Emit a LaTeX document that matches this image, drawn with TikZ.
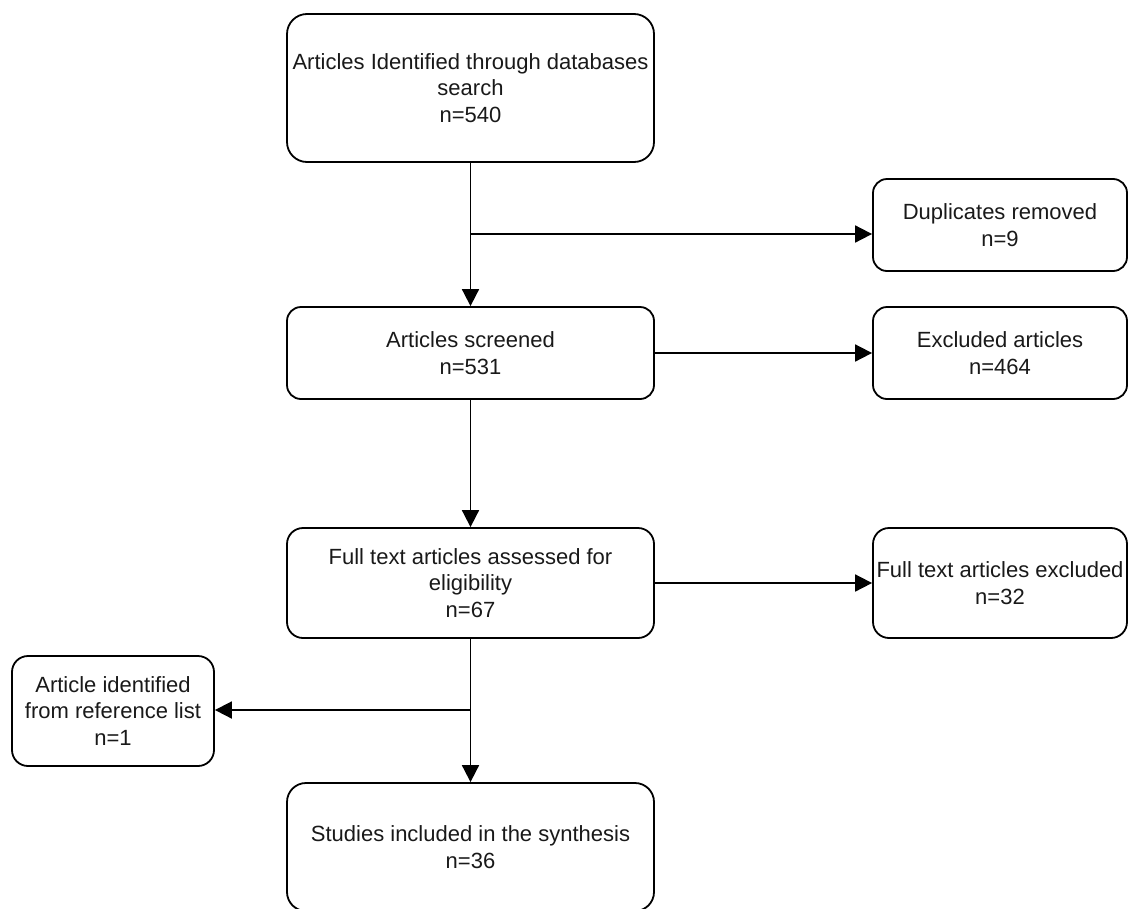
\documentclass[tikz,border=0pt]{standalone}
\usepackage{fontspec}
\setmainfont{Liberation Sans}
\usetikzlibrary{arrows.meta}
\tikzset{
  box/.style={draw=black, line width=1.8pt, align=center, inner sep=0pt,
    font=\fontsize{22}{26.4}\selectfont, text=black!90},
  conn/.style={draw=black, line width=1.8pt, -{Triangle[length=17pt,width=17pt]}},
  wide/.style={minimum width=367pt},
  side/.style={minimum width=254pt}
}
\begin{document}
\begin{tikzpicture}[x=1pt,y=-1pt]
\clip (0,0) rectangle (1129,908);
\node[box, wide, minimum height=148pt, rounded corners=20pt] (top) at (470.5,88)
  {Articles Identified through databases\\search\\n=540};
\node[box, side, minimum height=92pt, rounded corners=14pt] (dup) at (1000,225)
  {Duplicates removed\\n=9};
\node[box, wide, minimum height=92pt, rounded corners=14pt] (scr) at (470.5,353)
  {Articles screened\\n=531};
\node[box, side, minimum height=92pt, rounded corners=14pt] (exc) at (1000,353)
  {Excluded articles\\n=464};
\node[box, wide, minimum height=110pt, rounded corners=16pt] (full) at (470.5,583)
  {Full text articles assessed for\\eligibility\\n=67};
\node[box, side, minimum height=110pt, rounded corners=16pt] (ftx) at (1000,583)
  {Full text articles excluded\\n=32};
\node[box, minimum width=202pt, minimum height=110pt, rounded corners=16pt] (art) at (113,711)
  {Article identified\\from reference list\\n=1};
\node[box, wide, minimum height=128pt, rounded corners=19pt] (stu) at (470.5,847)
  {Studies included in the synthesis\\n=36};
\coordinate (b1) at (470.5,234);
\coordinate (b2) at (470.5,710);
\draw[conn] (top) -- (scr);
\draw[conn] (b1) -- (b1 -| dup.west);
\draw[conn] (scr) -- (exc);
\draw[conn] (scr) -- (full);
\draw[conn] (full) -- (ftx);
\draw[conn] (full) -- (stu);
\draw[conn] (b2) -- (b2 -| art.east);
\end{tikzpicture}
\end{document}
